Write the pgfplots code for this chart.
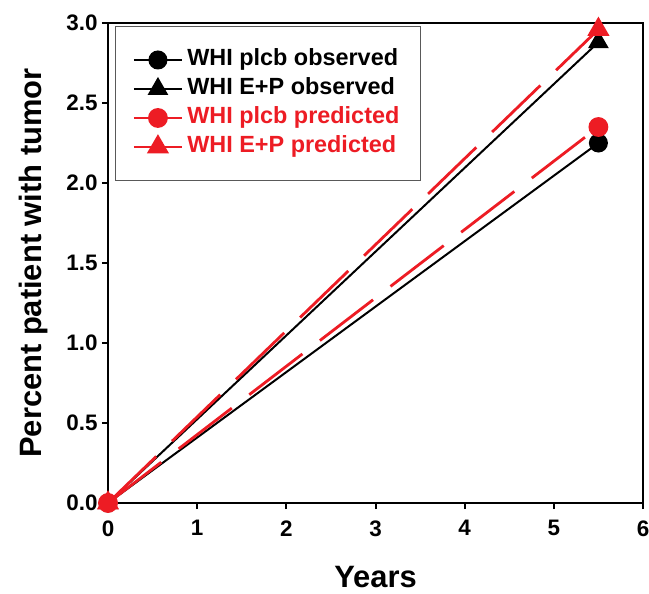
\documentclass[border=0pt]{standalone}
\usepackage{fontspec}
\setmainfont{Liberation Sans}
\usepackage{pgfplots}
\pgfplotsset{compat=1.18}
\definecolor{predred}{RGB}{237,28,36}
\begin{document}
\begin{tikzpicture}
\begin{axis}[
  scale only axis, width=535bp, height=480bp,
  xmin=0, xmax=6, ymin=0, ymax=3,
  xtick={0,1,2,3,4,5,6},
  ytick={0,0.5,1.0,1.5,2.0,2.5,3.0},
  axis line style={line width=2.5bp},
  tick style={black, line width=2bp},
  major tick length=6bp,
  tick align=outside, xtick pos=bottom, ytick pos=left,
  clip=false,
  /pgf/number format/assume math mode=true,
  ticklabel style={font=\bfseries\fontsize{22.5}{22.5}\selectfont},
  xticklabel style={yshift=-8bp},
  yticklabel style={xshift=-1bp, /pgf/number format/.cd, fixed, fixed zerofill, precision=1},
  xlabel={Years},
  ylabel={Percent patient with tumor},
  label style={font=\bfseries\fontsize{31}{31}\selectfont},
  xlabel style={at={(axis description cs:0.5,-0.177)}, anchor=base},
  ylabel style={at={(axis description cs:-0.1234,0.5)}, anchor=base},
  legend cell align=left,
  legend image code/.code={\draw[mark repeat=2,mark phase=2,#1] plot coordinates {(0bp,0bp) (24bp,0bp) (48bp,0bp)};},
  legend style={at={(axis description cs:0.013,0.994)}, anchor=north west,
    draw=black!65, line width=1.2bp, fill=white,
    font=\bfseries\fontsize{23.5}{23.5}\selectfont,
    inner xsep=17bp, inner ysep=23bp, row sep=8bp,
    nodes={inner ysep=0pt, inner xsep=4bp, text height=16bp, text depth=5bp}},
]
\addplot[black, line width=2bp, mark=*, mark size=8.5bp, mark options={solid}] coordinates {(0,0) (5.5,2.25)};
\addlegendentry{WHI plcb observed}
\addplot[black, line width=2bp, mark=triangle*, mark size=10bp, mark options={solid}] coordinates {(0,0) (5.5,2.88)};
\addlegendentry{WHI E+P observed}
\addplot[predred, line width=2.8bp, dash pattern=on 67bp off 22bp, mark=*, mark size=8.5bp, mark options={solid}] coordinates {(0,0) (5.5,2.35)};
\addlegendentry{\textcolor{predred}{WHI plcb predicted}}
\addplot[predred, line width=2.8bp, dash pattern=on 67bp off 22bp, mark=triangle*, mark size=10bp, mark options={solid}] coordinates {(0,0) (5.5,2.96)};
\addlegendentry{\textcolor{predred}{WHI E+P predicted}}
\end{axis}
\pgfresetboundingbox
\path[use as bounding box] (-108bp,-91bp) rectangle (541bp,503bp);
\end{tikzpicture}
\end{document}
